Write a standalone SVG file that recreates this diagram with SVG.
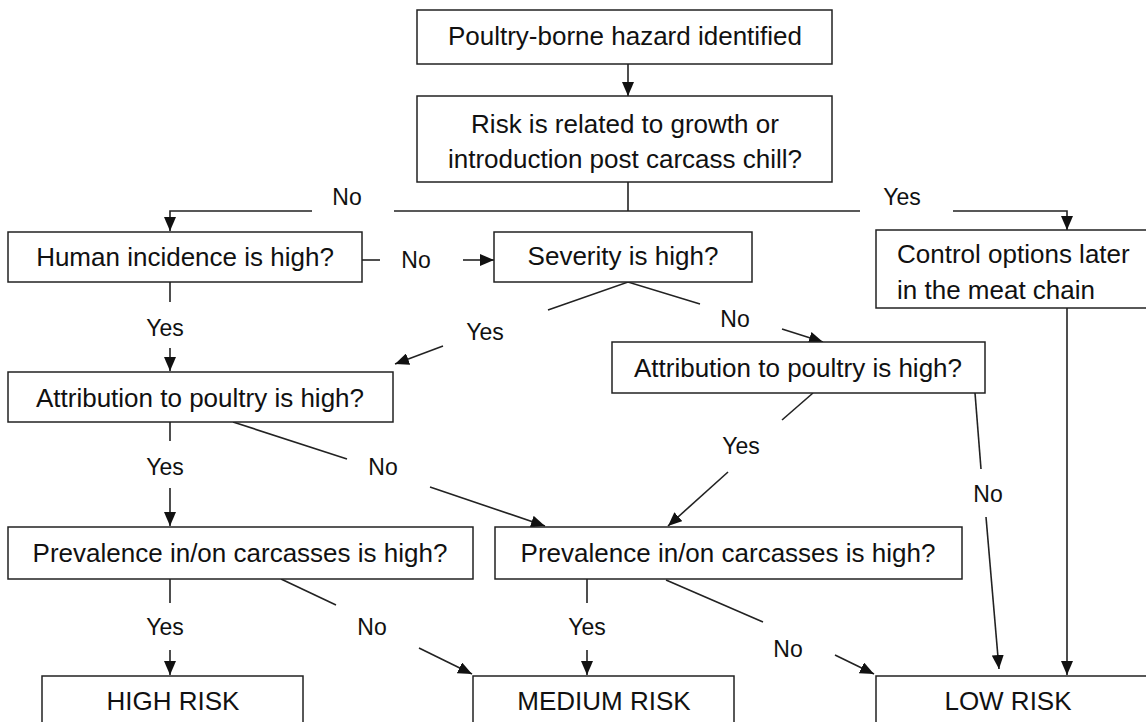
<svg xmlns="http://www.w3.org/2000/svg" width="1146" height="722" viewBox="0 0 1146 722">
<style>
.box{fill:#fff;stroke:#222;stroke-width:1.5}
.t{font-family:"Liberation Sans",Arial,sans-serif;font-size:26px;fill:#111}
.c{text-anchor:middle}
.lb{font-family:"Liberation Sans",Arial,sans-serif;font-size:23px;fill:#111;text-anchor:middle}
.ln{fill:none;stroke:#222;stroke-width:1.6}
.ar{fill:none;stroke:#222;stroke-width:1.6;marker-end:url(#ah)}
</style>
<defs>
<marker id="ah" viewBox="0 0 14 12" refX="14" refY="6" markerWidth="14" markerHeight="12" markerUnits="userSpaceOnUse" orient="auto">
<path d="M0,0 L14,6 L0,12 z" fill="#111"/>
</marker>
</defs>
<rect width="1146" height="722" fill="#fff"/>
<g id="connectors">
<line class="ar" x1="628" y1="64" x2="628" y2="96"/>
<line class="ln" x1="628" y1="182" x2="628" y2="211"/>
<polyline class="ar" points="312,211 170,211 170,231"/>
<line class="ln" x1="394" y1="211" x2="860" y2="211"/>
<polyline class="ar" points="953,211 1067,211 1067,230"/>
<text class="lb" x="347" y="205">No</text>
<text class="lb" x="902" y="205">Yes</text>
<line class="ln" x1="362" y1="260" x2="380" y2="260"/>
<text class="lb" x="416" y="268">No</text>
<line class="ar" x1="463" y1="260" x2="494" y2="260"/>
<line class="ln" x1="170" y1="282" x2="170" y2="302"/>
<text class="lb" x="165" y="336">Yes</text>
<line class="ar" x1="170" y1="348" x2="170" y2="371"/>
<polyline class="ln" points="548,310 628,282 700,304"/>
<text class="lb" x="485" y="340">Yes</text>
<line class="ar" x1="443" y1="346" x2="395" y2="364"/>
<text class="lb" x="735" y="327">No</text>
<line class="ar" x1="782" y1="329" x2="823" y2="342"/>
<line class="ln" x1="170" y1="422" x2="170" y2="441"/>
<text class="lb" x="165" y="475">Yes</text>
<line class="ar" x1="170" y1="488" x2="170" y2="526"/>
<line class="ln" x1="233" y1="422" x2="347" y2="459"/>
<text class="lb" x="383" y="475">No</text>
<line class="ar" x1="430" y1="487" x2="545" y2="526"/>
<line class="ln" x1="813" y1="393" x2="782" y2="420"/>
<text class="lb" x="741" y="454">Yes</text>
<line class="ar" x1="728" y1="472" x2="668" y2="526"/>
<line class="ln" x1="975" y1="393" x2="981" y2="469"/>
<text class="lb" x="988" y="502">No</text>
<line class="ar" x1="986" y1="517" x2="999" y2="669"/>
<line class="ar" x1="1067" y1="308" x2="1067" y2="675"/>
<line class="ln" x1="170" y1="579" x2="170" y2="603"/>
<text class="lb" x="165" y="635">Yes</text>
<line class="ar" x1="170" y1="650" x2="170" y2="675"/>
<line class="ln" x1="281" y1="579" x2="336" y2="605"/>
<text class="lb" x="372" y="635">No</text>
<line class="ar" x1="419" y1="648" x2="472" y2="674"/>
<line class="ln" x1="587" y1="579" x2="587" y2="603"/>
<text class="lb" x="587" y="635">Yes</text>
<line class="ar" x1="587" y1="650" x2="587" y2="675"/>
<line class="ln" x1="666" y1="580" x2="763" y2="622"/>
<text class="lb" x="788" y="657">No</text>
<line class="ar" x1="835" y1="655" x2="874" y2="674"/>
</g>
<g id="n1"><rect class="box" x="417" y="10" width="415" height="54"/><text class="t c" x="625" y="45">Poultry-borne hazard identified</text></g>
<g id="n2"><rect class="box" x="417" y="96" width="415" height="86"/><text class="t c" x="625" y="133">Risk is related to growth or</text><text class="t c" x="625" y="168">introduction post carcass chill?</text></g>
<g id="n3"><rect class="box" x="8" y="232" width="354" height="50"/><text class="t c" x="185" y="266">Human incidence is high?</text></g>
<g id="n4"><rect class="box" x="494" y="232" width="258" height="50"/><text class="t c" x="623" y="265">Severity is high?</text></g>
<g id="n5"><rect class="box" x="876" y="230" width="272" height="78"/><text class="t" x="897" y="263">Control options later</text><text class="t" x="897" y="299">in the meat chain</text></g>
<g id="n6"><rect class="box" x="8" y="372" width="385" height="50"/><text class="t c" x="200" y="407">Attribution to poultry is high?</text></g>
<g id="n7"><rect class="box" x="612" y="342" width="373" height="51"/><text class="t c" x="798" y="377">Attribution to poultry is high?</text></g>
<g id="n8"><rect class="box" x="8" y="527" width="465" height="52"/><text class="t c" x="240" y="562">Prevalence in/on carcasses is high?</text></g>
<g id="n9"><rect class="box" x="495" y="527" width="467" height="52"/><text class="t c" x="728" y="562">Prevalence in/on carcasses is high?</text></g>
<g id="n10"><rect class="box" x="42" y="676" width="261" height="60"/><text class="t c" x="173" y="710">HIGH RISK</text></g>
<g id="n11"><rect class="box" x="473" y="676" width="261" height="60"/><text class="t c" x="604" y="710">MEDIUM RISK</text></g>
<g id="n12"><rect class="box" x="876" y="676" width="272" height="60"/><text class="t c" x="1008" y="710">LOW RISK</text></g>
</svg>
